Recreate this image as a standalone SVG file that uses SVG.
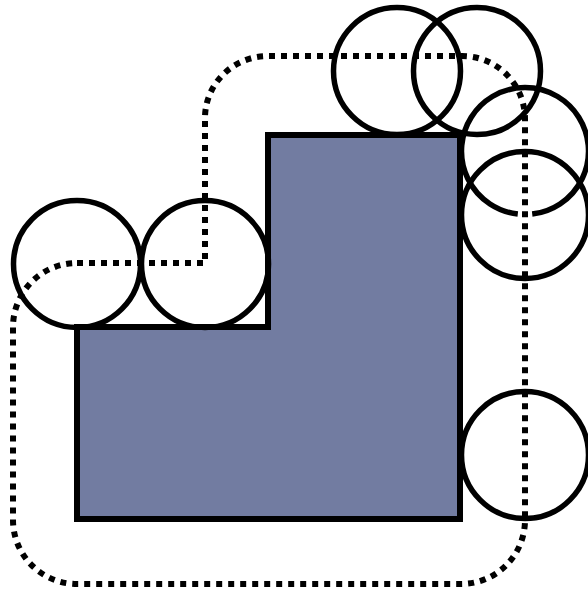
<svg xmlns="http://www.w3.org/2000/svg" width="588" height="592" viewBox="0 0 588 592">
<style>
.shape{fill:#727ca1;stroke:#000;stroke-width:6;stroke-linejoin:miter}
.circ{fill:none;stroke:#000;stroke-width:5.5}
.dot{fill:none;stroke:#000;stroke-width:6;stroke-dasharray:6 6}
</style>
<rect width="588" height="592" fill="#fff"/>
<g id="region">
<polygon class="shape" points="77,327 268,327 268,135 460,135 460,519 77,519"/>
</g>
<g id="connectors">
<path class="dot" d="M77,263 H205 V119 A63 62 0 0 1 268,56 H462 A63 63 0 0 1 525,119 V520 A64 64 0 0 1 461,584 H77 A64 64 0 0 1 13,520 V327 A64 64 0 0 1 77,263 Z"/>
</g>
<g id="c1"><circle class="circ" cx="77" cy="264" r="63.5"/></g>
<g id="c2"><circle class="circ" cx="205" cy="264" r="63.5"/></g>
<g id="c3"><circle class="circ" cx="397" cy="71" r="63.5"/></g>
<g id="c4"><circle class="circ" cx="477" cy="71" r="63.5"/></g>
<g id="c5"><path class="circ" d="M532.2,214.1 A63.5 63.5 0 1 0 517.8,214.1"/></g>
<g id="c6"><circle class="circ" cx="525" cy="215" r="63.5"/></g>
<g id="c7"><circle class="circ" cx="525" cy="455" r="63.5"/></g>
</svg>
